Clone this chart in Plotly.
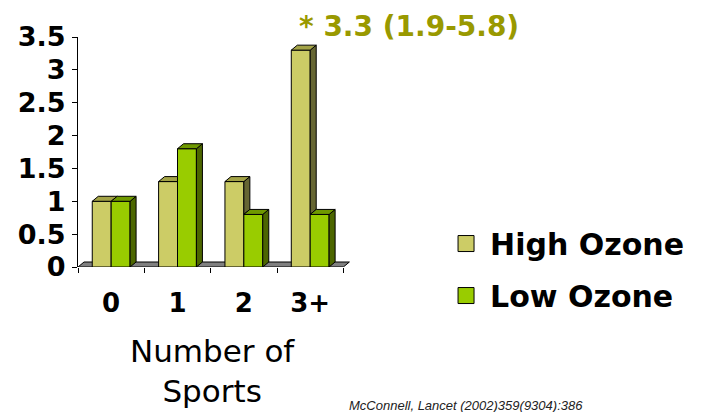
import plotly.graph_objects as go

# ---- data ----
categories = ["0", "1", "2", "3+"]
high_ozone = [1.0, 1.3, 1.3, 3.3]
low_ozone = [1.0, 1.8, 0.8, 0.8]
series_names = ["High Ozone", "Low Ozone"]
y_ticks = [0, 0.5, 1, 1.5, 2, 2.5, 3, 3.5]
note_text = "* 3.3 (1.9-5.8)"
axis_title = "Number of<br>Sports"
citation = "McConnell, Lancet (2002)359(9304):386"

# ---- style ----
HIGH_FACE, HIGH_TOP, HIGH_SIDE = "#CCCC66", "#A3A347", "#666633"
LOW_FACE, LOW_TOP, LOW_SIDE = "#99CC00", "#6F9900", "#4C6600"
W = 0.285      # bar width (category units)
DX = 0.0906    # 3-D depth, x
DY = 0.076     # 3-D depth, y
BOLD = dict(family="DejaVu Sans", weight="bold", color="black")

xpos = list(range(len(categories)))


def poly_trace(polys, color):
    xs, ys = [], []
    for p in polys:
        for (a, b) in p + [p[0]]:
            xs.append(a)
            ys.append(b)
        xs.append(None)
        ys.append(None)
    return go.Scatter(x=xs, y=ys, mode="lines", fill="toself", fillcolor=color,
                      line=dict(color="black", width=1), showlegend=False,
                      hoverinfo="skip")


fig = go.Figure()

# front faces
fig.add_trace(go.Bar(x=xpos, y=high_ozone, width=W, offset=-W,
                     marker=dict(color=HIGH_FACE, line=dict(color="black", width=1)),
                     showlegend=False, hoverinfo="skip"))
fig.add_trace(go.Bar(x=xpos, y=low_ozone, width=W, offset=0,
                     marker=dict(color=LOW_FACE, line=dict(color="black", width=1)),
                     showlegend=False, hoverinfo="skip"))

# 3-D faces computed from values
high_tops, high_sides, low_tops, low_sides = [], [], [], []
for i, vh, vl in zip(xpos, high_ozone, low_ozone):
    if vl <= vh:
        high_tops.append([(i - W, vh), (i, vh), (i + DX, vh + DY), (i - W + DX, vh + DY)])
    else:
        high_tops.append([(i - W, vh), (i, vh), (i, vh + DY), (i - W + DX, vh + DY)])
    if vh > vl:
        high_sides.append([(i, vl), (i + DX, vl + DY), (i + DX, vh + DY), (i, vh)])
    low_tops.append([(i, vl), (i + W, vl), (i + W + DX, vl + DY), (i + DX, vl + DY)])
    low_sides.append([(i + W, 0), (i + W + DX, DY), (i + W + DX, vl + DY), (i + W, vl)])

fig.add_trace(poly_trace(high_sides, HIGH_SIDE))
fig.add_trace(poly_trace(high_tops, HIGH_TOP))
fig.add_trace(poly_trace(low_sides, LOW_SIDE))
fig.add_trace(poly_trace(low_tops, LOW_TOP))

# legend entries
for name, col in zip(series_names, [HIGH_FACE, LOW_FACE]):
    fig.add_trace(go.Scatter(x=[None], y=[None], mode="markers", name=name,
                             legendgroup=name,
                             marker=dict(symbol="square", size=16, color=col,
                                         line=dict(color="black", width=1))))

x_lo, x_hi = -0.5, len(categories) - 0.5
# floor
fig.add_shape(type="path", xref="x", yref="y", layer="below",
              path=f"M {x_lo},0 L {x_hi},0 L {x_hi + DX},{DY} L {x_lo + DX},{DY} Z",
              fillcolor="#808080", line=dict(color="black", width=1))

fig.update_layout(
    width=705, height=412,
    margin=dict(l=78, r=355, t=37, b=145, autoexpand=False),
    plot_bgcolor="white", paper_bgcolor="white",
    barmode="overlay",
    xaxis=dict(range=[x_lo, x_hi + 0.1], tickvals=xpos, ticktext=categories,
               ticks="", showline=False, showgrid=False, zeroline=False,
               tickfont=dict(size=26, **BOLD), ticklabelstandoff=18,
               minor=dict(tickvals=[x_lo + k for k in range(len(categories) + 1)],
                          ticks="outside", ticklen=5, tickcolor="black",
                          showgrid=False)),
    yaxis=dict(range=[0, 3.5], tickvals=y_ticks, ticks="outside", ticklen=5,
               tickcolor="black", showline=True, linecolor="black", linewidth=1,
               showgrid=False, zeroline=False, tickfont=dict(size=27, **BOLD),
               ticklabelstandoff=1),
    legend=dict(xref="container", yref="container", x=0.627, y=0.472,
                xanchor="left", yanchor="top", traceorder="grouped",
                tracegroupgap=10, itemsizing="trace", itemwidth=38,
                font=dict(size=30, **BOLD), bgcolor="rgba(0,0,0,0)"),
    annotations=[
        dict(text=note_text, xref="paper", yref="paper", x=1.217, y=1.045,
             xanchor="center", yanchor="middle", showarrow=False,
             font=dict(family="DejaVu Sans", weight="bold", size=28, color="#999900")),
        dict(text=axis_title, xref="paper", yref="paper", x=0.495, y=-0.452,
             xanchor="center", yanchor="middle", showarrow=False,
             font=dict(family="DejaVu Sans", size=31, color="black")),
        dict(text="<i>" + citation + "</i>", xref="paper", yref="paper",
             x=0.99, y=-0.6, xanchor="left", yanchor="middle", showarrow=False,
             font=dict(family="Liberation Sans", size=13, color="#222222")),
    ],
)

fig.write_html("out.html", config={"displayModeBar": False},
               post_script="document.body.style.margin='0';")
